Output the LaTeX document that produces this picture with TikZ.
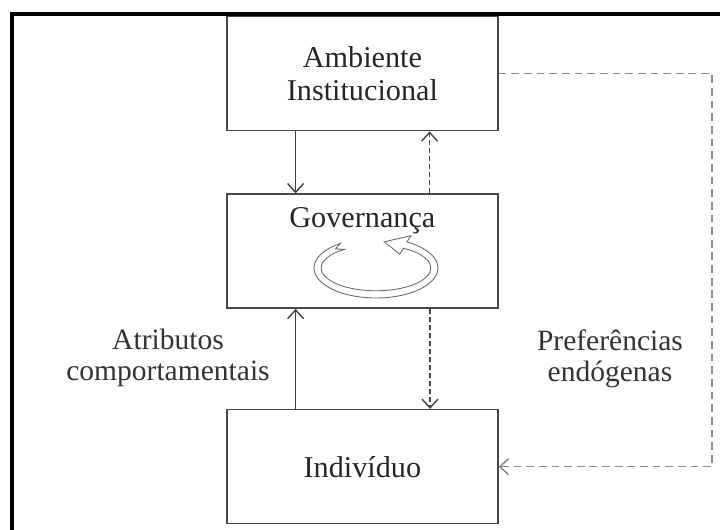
\documentclass[tikz,border=0pt]{standalone}
\usepackage{fontspec}
\setmainfont{Liberation Serif}
\usetikzlibrary{positioning,arrows.meta}

\tikzset{
  caixa/.style={draw=black!72, line width=1.1pt, minimum width=6.775cm, minimum height=2.85cm,
                align=center, text=black!85, font=\fontsize{21.5}{23}\selectfont},
  rotulo/.style={align=center, text=black!80, font=\fontsize{21}{21.5}\selectfont},
  seta/.style={draw=black!75, line width=1pt},
  tracejada/.style={draw=black!72, line width=1pt, dash pattern=on 3.5pt off 2.2pt},
  retorno/.style={draw=black!45, line width=1.1pt, dash pattern=on 5.5pt off 3.5pt},
  giro/.style={draw=black!60, line width=0.6pt}
}

\begin{document}
\begin{tikzpicture}[>={Straight Barb[length=2.2mm,width=4mm]}]
                \useasboundingbox (0,0) rectangle (18,13.25);

                % Frame
                \draw[line width=2.8pt] (0.3,0) -- (0.3,12.9) -- (18,12.9);

                % Boxes
                \node[caixa] (amb) at (9.06,11.41) {Ambiente\\Institucional};
                \node[caixa, below=1.55cm of amb] (gov) {};
                \node[caixa, below=2.5cm of gov] (ind) {Indivíduo};
                \node[caixa, draw=none, minimum height=0pt, minimum width=0pt, inner sep=0pt]
                     (govtxt) at ([yshift=-0.68cm]gov.north) {Governança};

                % Circular arrow
                \begin{scope}[shift={(9.4,6.55)}]
                  \draw[giro] (125:1.55 and 0.75)
                     arc[start angle=125, end angle=420, x radius=1.55, y radius=0.75]
                     -- (60:1.74 and 0.93) -- (82:1.46 and 0.66) -- (60:1.19 and 0.40)
                     -- (60:1.37 and 0.57)
                     arc[start angle=420, end angle=125, x radius=1.37, y radius=0.57]
                     -- (134:1.46 and 0.66) -- cycle;
                \end{scope}

                % Arrows between boxes
                \draw[seta, ->] ([xshift=-1.67cm]amb.south) -- ([xshift=-1.67cm]gov.north);
                \draw[tracejada, ->] ([xshift=1.68cm]gov.north) -- ([xshift=1.68cm]amb.south);
                \draw[seta, ->] ([xshift=-1.67cm]ind.north) -- ([xshift=-1.67cm]gov.south);
                \draw[tracejada, ->] ([xshift=1.69cm]gov.south) -- ([xshift=1.69cm]ind.north);

                % Feedback path
                \coordinate (borda) at (17.8,0);
                \draw[retorno, ->] (amb.east) -- (amb.east -| borda) -- (ind.east -| borda) -- (ind.east);

                % Labels
                \node[rotulo] (atrib) at (4.2,4.3) {Atributos\\comportamentais};
                \node[rotulo] (pref) at (15.25,4.28) {Preferências\\endógenas};
\end{tikzpicture}
\end{document}
